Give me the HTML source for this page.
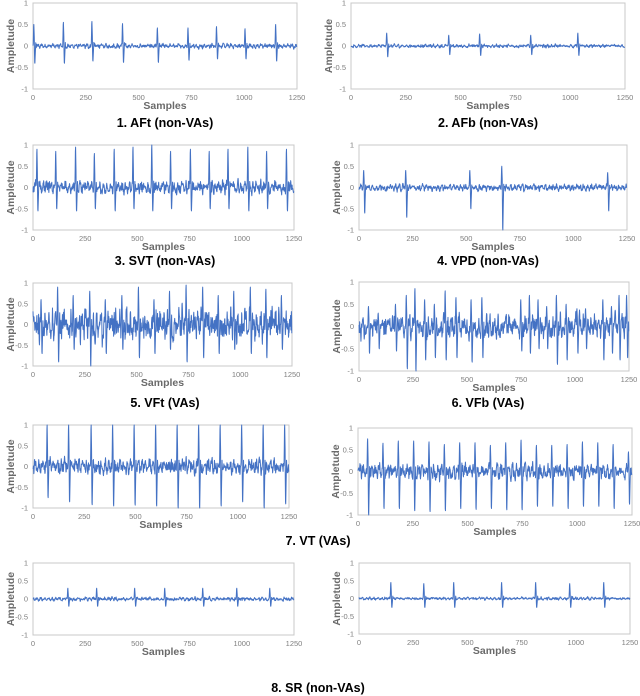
<!DOCTYPE html>
<html><head><meta charset="utf-8">
<style>
body{margin:0;background:#fff;width:640px;height:696px;overflow:hidden;font-family:"Liberation Sans",sans-serif}
svg{display:block}
</style></head>
<body>
<svg id="fig" width="640" height="696"></svg>
<script>
// Beat sample positions, positive peaks, negative troughs for each panel
const beats1=[5,145,280,425,590,735,870,1005,1150];
const up1=[0.5,0.55,0.57,0.52,0.42,0.42,0.45,0.4,0.5];
const dn1=[-0.4,-0.4,-0.35,-0.38,-0.38,-0.33,-0.3,-0.3,-0.35];
const beats2=[164,447,588,821,1036];
const up2=[0.3,0.25,0.28,0.25,0.3];
const dn2=[-0.25,-0.2,-0.22,-0.2,-0.22];
const beats3=[20,110,205,295,390,480,570,660,755,845,935,1030,1120,1215];
const up3=[0.9,0.85,0.95,0.8,0.9,0.95,1,0.85,0.9,0.85,0.9,0.95,0.85,0.9];
const dn3=[-0.55,-0.5,-0.55,-0.5,-0.55,-0.5,-0.55,-0.5,-0.55,-0.5,-0.5,-0.55,-0.5,-0.55];
const beats4=[23,219,518,667,1161];
const up4=[0.4,0.4,0.4,0.5,0.35];
const dn4=[-0.6,-0.7,-0.5,-1,-0.55];
const beats5=[40,120,195,275,350,430,510,585,660,740,820,895,970,1050,1125,1200];
const up5=[0.6,0.9,0.7,0.8,0.6,0.7,0.9,0.6,0.8,0.95,0.9,0.7,0.8,0.9,0.85,0.7];
const dn5=[-0.7,-0.9,-0.6,-1,-0.7,-0.6,-0.8,-0.7,-0.6,-0.9,-0.8,-0.7,-0.6,-0.7,-0.8,-0.6];
const beats6=[45,90,170,220,260,305,350,400,450,520,570,750,790,830,870,915,960,1010,1050,1130,1170,1205,1240];
const up6=[0.45,0.3,0.5,0.7,0.85,0.6,0.5,0.8,0.65,0.6,0.65,0.6,0.7,0.6,0.45,0.7,0.5,0.4,0.4,0.6,0.45,0.7,0.7];
const dn6=[-0.6,-0.5,-0.55,-0.95,-1,-0.75,-0.7,-0.75,-0.7,-0.8,-0.7,-0.55,-0.6,-0.5,-0.5,-0.85,-0.75,-0.6,-0.5,-0.75,-0.6,-0.75,-0.7];
const beats7=[70,175,285,390,495,600,705,810,915,1020,1125,1230];
const up7=[1,1,1,1,1,1,1,1,1,1,1,1];
const dn7=[-0.75,-0.85,-0.92,-0.95,-0.93,-0.95,-1,-1,-0.95,-0.85,-1,-0.9];
const beats7b=[45,115,185,255,325,395,465,535,605,675,745,815,885,955,1025,1095,1165,1235];
const up7b=[0.75,0.65,0.7,0.7,0.68,0.62,0.66,0.66,0.6,0.66,0.72,0.6,0.6,0.62,0.68,0.66,0.62,0.45];
const dn7b=[-1,-0.85,-0.85,-0.9,-0.92,-0.9,-0.85,-0.87,-0.85,-0.88,-0.88,-0.8,-0.8,-0.85,-0.8,-0.8,-0.85,-0.75];
const beats8=[168,306,488,632,814,977,1135];
const up8=[0.3,0.3,0.3,0.3,0.3,0.3,0.3];
const dn8=[-0.2,-0.2,-0.2,-0.2,-0.2,-0.2,-0.2];
const beats8b=[148,300,438,659,816,973,1130];
const up8b=[0.45,0.42,0.45,0.45,0.45,0.42,0.45];
const dn8b=[-0.25,-0.25,-0.25,-0.25,-0.25,-0.25,-0.25];
const noiseLvl=[0.04,0.03,0.12,0.06,0.3,0.22,0.14,0.14,0.04,0.03];
const xTicks=[0,250,500,750,1000,1250];
const yTicks=[1,0.5,0,-0.5,-1];

const NS='http://www.w3.org/2000/svg';
const svg=document.getElementById('fig');
function mk(tag,attrs,parent){const e=document.createElementNS(NS,tag);for(const k in attrs)e.setAttribute(k,attrs[k]);(parent||svg).appendChild(e);return e;}

const panels=[
 {x0:33,x1:297,y0:3,y1:89,b:beats1,u:up1,d:dn1,n:0},
 {x0:351,x1:625,y0:3,y1:89,b:beats2,u:up2,d:dn2,n:1},
 {x0:33,x1:294,y0:145,y1:230,b:beats3,u:up3,d:dn3,n:2},
 {x0:359,x1:627,y0:145,y1:230,b:beats4,u:up4,d:dn4,n:3},
 {x0:33,x1:292,y0:283,y1:366,b:beats5,u:up5,d:dn5,n:4},
 {x0:359,x1:629,y0:282,y1:371,b:beats6,u:up6,d:dn6,n:5},
 {x0:33,x1:289,y0:425,y1:508,b:beats7,u:up7,d:dn7,n:6},
 {x0:358,x1:632,y0:428,y1:515,b:beats7b,u:up7b,d:dn7b,n:7},
 {x0:33,x1:294,y0:563,y1:635,b:beats8,u:up8,d:dn8,n:8},
 {x0:359,x1:630,y0:563,y1:634,b:beats8b,u:up8b,d:dn8b,n:9}
];
const titles=[["1. AFt (non-VAs)",165,127],["2. AFb (non-VAs)",488,127],["3. SVT (non-VAs)",165,265],["4. VPD (non-VAs)",488,265],
["5. VFt (VAs)",165,407],["6. VFb (VAs)",488,407],["7. VT (VAs)",318,545],["8. SR (non-VAs)",318,692]];

let seed=12345;
function rnd(){seed=(seed*1103515245+12345)%2147483648;return seed/2147483648;}

panels.forEach((p,pi)=>{
  const g=mk('g',{});
  
  
  const sx=v=>p.x0+(v/1250)*(p.x1-p.x0);
  const sy=v=>p.y0+(1-v)/2*(p.y1-p.y0);
  const box=mk('rect',{x:p.x0,y:p.y0,width:p.x1-p.x0,height:p.y1-p.y0,fill:'none',stroke:'#c8c8c8','stroke-width':1},g);
  
  
  xTicks.forEach(t=>{const e=mk('text',{x:sx(t),y:p.y1+11,'font-size':7.5,fill:'#7f7f7f','text-anchor':'middle'},g);e.textContent=t;
    });
  yTicks.forEach(t=>{const e=mk('text',{x:p.x0-5,y:sy(t)+2.5,'font-size':7.5,fill:'#7f7f7f','text-anchor':'end'},g);e.textContent=t;
    });
  const xt=mk('text',{x:(p.x0+p.x1)/2,y:p.y1+20,'font-size':10.5,'font-weight':'bold',fill:'#6a6a6a','text-anchor':'middle'},g);
  xt.textContent='Samples';
  const cy=(p.y0+p.y1)/2;
  const yt=mk('text',{x:0,y:0,'font-size':10.5,'font-weight':'bold',fill:'#6a6a6a','text-anchor':'middle',transform:`translate(${p.x0-19},${cy}) rotate(-90)`},g);
  yt.textContent='Ampletude';
  // build signal
  const N=1250, raw=new Array(N), sig=new Array(N);
  const nl=noiseLvl[p.n];
  for(let i=0;i<N;i++)raw[i]=(rnd()-0.5)*2;
  for(let i=0;i<N;i++){
    const a=raw[Math.max(0,i-1)],b=raw[i],c=raw[Math.min(N-1,i+1)];
    sig[i]=nl*((a+2*b+c)/2.6)+nl*0.5*Math.sin(i*0.35+pi*1.7);
  }
  p.b.forEach((b,k)=>{
    const u=p.u[k], d=p.d[k];
    const shape=[[-4,u*0.1],[-3,u*0.45],[-2,u*0.9],[-1,u],[1,u*0.4],[2,d*0.4],[3,d*0.95],[4,d],[6,d*0.4],[8,u*0.15],[9,u*0.1]];
    for(let s=0;s<shape.length-1;s++){
      const [o1,v1]=shape[s],[o2,v2]=shape[s+1];
      for(let o=o1;o<o2;o++){const i=b+o;if(i>=0&&i<N)sig[i]=v1+(v2-v1)*(o-o1)/(o2-o1);}
    }
  });
  let pts='';
  for(let i=0;i<N;i++){const v=Math.max(-1,Math.min(1,sig[i]));pts+=sx(i).toFixed(2)+','+sy(v).toFixed(2)+' ';}
  const line=mk('polyline',{points:pts,fill:'none',stroke:'#4472c4','stroke-width':1,'stroke-linejoin':'round'},g);
  
  
});
titles.forEach(t=>{const e=mk('text',{x:t[1],y:t[2],'font-size':12.5,'font-weight':'bold',fill:'#000','text-anchor':'middle'});e.textContent=t[0];
  });
</script>
</body></html>
